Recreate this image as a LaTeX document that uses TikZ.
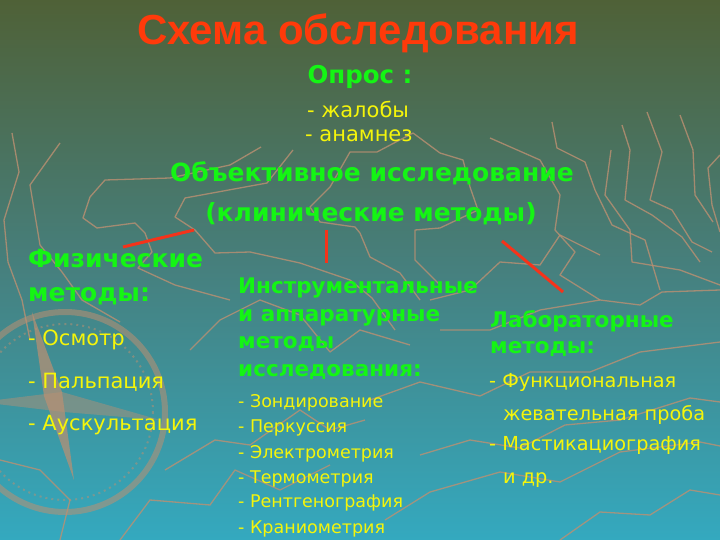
\documentclass[tikz,border=0pt]{standalone}
\usepackage{fontspec}
\setmainfont{DejaVu Sans}
\newfontfamily\titlefont{Liberation Sans}
\newfontfamily\headfont{DejaVu Sans}
\usetikzlibrary{calc}
\usetikzlibrary{positioning}

\definecolor{bgtop}{HTML}{4F6137}
\definecolor{bgmid}{HTML}{46807E}
\definecolor{bgbot}{HTML}{34A9BF}
\definecolor{titlered}{HTML}{FF3A0A}
\definecolor{headgreen}{HTML}{14F514}
\definecolor{itemyellow}{HTML}{F5F50A}
\definecolor{linkred}{HTML}{F5331A}
\definecolor{wavetan}{HTML}{BC9072}

\begin{document}
\begin{tikzpicture}[x=1pt,y=-1pt]
  \tikzset{mytitle/.style={anchor=base, inner sep=0pt, text=titlered, font=\titlefont\bfseries\fontsize{42}{46}\selectfont}};
  \tikzset{myhead/.style={anchor=base west, inner sep=0pt, text=headgreen, font=\headfont\bfseries\fontsize{25}{29}\selectfont}};
  \tikzset{mysubhead/.style={myhead, font=\headfont\bfseries\fontsize{21.5}{25}\selectfont}};
  \tikzset{myitem/.style={anchor=base west, inner sep=0pt, text=itemyellow, font=\fontsize{21}{25}\selectfont}};
  \tikzset{mysmallitem/.style={myitem, font=\fontsize{17.5}{21}\selectfont}};
  \tikzset{mylabitem/.style={myitem, font=\fontsize{19.3}{23}\selectfont}};
  \tikzset{myedge/.style={draw=linkred, line width=3pt}};
  \tikzset{mywave/.style={draw=wavetan, line width=1.3pt, opacity=0.8, line join=round}};

  % background
  \shade[top color=bgtop, bottom color=bgbot, middle color=bgmid] (0,0) rectangle (720,540);
  \useasboundingbox (0,0) rectangle (720,540);

  % wavy decoration
  \draw[mywave] (12,133) -- (19,172) -- (4,220) -- (8,262) -- (22,300) -- (30,340);
  \draw[mywave] (60,143) -- (30,185) -- (40,245) -- (62,272) -- (82,300) -- (120,322);
  \draw[mywave] (261,147) -- (230,165) -- (170,178) -- (105,180) -- (90,197) -- (83,218) -- (97,228)
                -- (135,223) -- (145,233) -- (152,252) -- (138,268) -- (175,285) -- (230,300);
  \draw[mywave] (293,150) -- (267,183) -- (185,198) -- (175,217) -- (195,230) -- (215,253)
                -- (250,252) -- (300,263) -- (350,280) -- (372,298) -- (395,330);
  \draw[mywave] (413,133) -- (377,152) -- (350,152) -- (330,187) -- (310,207) -- (320,222)
                -- (355,227) -- (360,233) -- (370,257) -- (400,273) -- (420,300);
  \draw[mywave] (413,133) -- (440,153) -- (463,160) -- (470,187) -- (478,210) -- (440,228)
                -- (415,230) -- (415,260) -- (440,285);
  \draw[mywave] (490,138) -- (540,160) -- (560,195) -- (555,230) -- (575,252) -- (560,275) -- (600,300);
  \draw[mywave] (552,122) -- (557,148) -- (585,162) -- (595,190) -- (612,225) -- (645,240) -- (660,290);
  \draw[mywave] (611,150) -- (605,195) -- (630,230) -- (632,262) -- (680,270) -- (720,285);
  \draw[mywave] (622,125) -- (630,150) -- (625,200) -- (652,215) -- (682,237) -- (700,262);
  \draw[mywave] (647,112) -- (662,152) -- (650,200) -- (672,210) -- (692,242) -- (712,252);
  \draw[mywave] (680,115) -- (693,150) -- (695,195) -- (713,222);
  \draw[mywave] (720,155) -- (708,168) -- (712,205) -- (720,232);
  \draw[mywave] (430,300) -- (470,290) -- (500,262) -- (540,265) -- (560,235) -- (600,255);
  \draw[mywave] (440,330) -- (490,330) -- (540,310) -- (600,300) -- (640,305) -- (662,292) -- (720,290);
  \draw[mywave] (190,350) -- (220,320) -- (260,300) -- (300,315) -- (330,352) -- (360,330) -- (410,345);
  \draw[mywave] (370,400) -- (420,382) -- (480,396) -- (530,372) -- (590,372) -- (640,352) -- (720,342);
  \draw[mywave] (165,470) -- (215,440) -- (250,445) -- (300,410) -- (330,430) -- (365,420);
  \draw[mywave] (120,540) -- (150,500) -- (210,505) -- (235,470) -- (280,490) -- (330,465);
  \draw[mywave] (385,520) -- (430,492) -- (500,472) -- (560,482) -- (620,452) -- (700,442) -- (720,446);
  \draw[mywave] (420,455) -- (470,440) -- (520,448) -- (565,425) -- (620,420) -- (690,398) -- (720,402);
  \draw[mywave] (560,540) -- (600,512) -- (650,515) -- (690,490) -- (720,495);
  \draw[mywave] (0,460) -- (40,470) -- (70,500) -- (60,540);
  % compass rose
  \draw[wavetan, line width=6pt, opacity=0.55] (65,412) circle (100);
  \draw[wavetan, line width=2pt, opacity=0.5, dash pattern=on 2pt off 4pt] (65,412) circle (88);
  \fill[wavetan, opacity=0.7] (32,312) -- (62,392) -- (74,480) -- (44,396) -- cycle;
  \fill[wavetan, opacity=0.45] (-20,402) -- (62,392) -- (160,420) -- (64,412) -- cycle;

  % title and first block
  \node[mytitle] (title) at (358,45) {Схема обследования};
  \node[myhead, anchor=base, font=\headfont\bfseries\fontsize{24.5}{28}\selectfont] (opros) at (360,84) {Опрос :};
  \node[myitem] (zhaloby) at (307,118) {- жалобы};
  \node[myitem] (anamnez) at (305,142) {- анамнез};

  \node[myhead, anchor=base] (objective) at (372,182) {Объективное исследование};
  \node[myhead, anchor=base] (clinical) at (371,222) {(клинические методы)};

  % physical methods
  \node[myhead] (phys1) at (28,267) {Физические};
  \node[myhead] (phys2) at (28,301) {методы:};
  \node[myitem] (osmotr) at (28,345) {- Осмотр};
  \node[myitem] (palp) at (28,388) {- Пальпация};
  \node[myitem] (ausk) at (28,430) {- Аускультация};

  % instrumental methods
  \node[mysubhead] (instr1) at (238,293) {Инструментальные};
  \node[mysubhead] (instr2) at (238,321) {и аппаратурные};
  \node[mysubhead] (instr3) at (238,348) {методы};
  \node[mysubhead] (instr4) at (238,376) {исследования:};
  \node[mysmallitem] (zond) at (238,407) {- Зондирование};
  \node[mysmallitem] (perk) at (238,432) {- Перкуссия};
  \node[mysmallitem] (elektro) at (238,458) {- Электрометрия};
  \node[mysmallitem] (termo) at (238,483) {- Термометрия};
  \node[mysmallitem] (rentgen) at (238,507) {- Рентгенография};
  \node[mysmallitem] (kranio) at (238,533) {- Краниометрия};

  % laboratory methods
  \node[mysubhead] (lab1) at (490,327) {Лабораторные};
  \node[mysubhead] (lab2) at (490,353) {методы:};
  \node[mylabitem] (func1) at (489,387) {- Функциональная};
  \node[mylabitem] (func2) at (503,420) {жевательная проба};
  \node[mylabitem] (mast1) at (489,450) {- Мастикациография};
  \node[mylabitem] (mast2) at (503,483) {и др.};

  % links
  \coordinate (linkL) at (194,230);  \coordinate (physT) at (123,247);
  \coordinate (linkM) at (326,230);  \coordinate (instrT) at (326,263);
  \coordinate (linkR) at (502,241);  \coordinate (labT) at (563,292);
  \draw[myedge] (linkL) -- (physT);
  \draw[myedge] (linkM) -- (instrT);
  \draw[myedge] (linkR) -- (labT);

\end{tikzpicture}
\end{document}
